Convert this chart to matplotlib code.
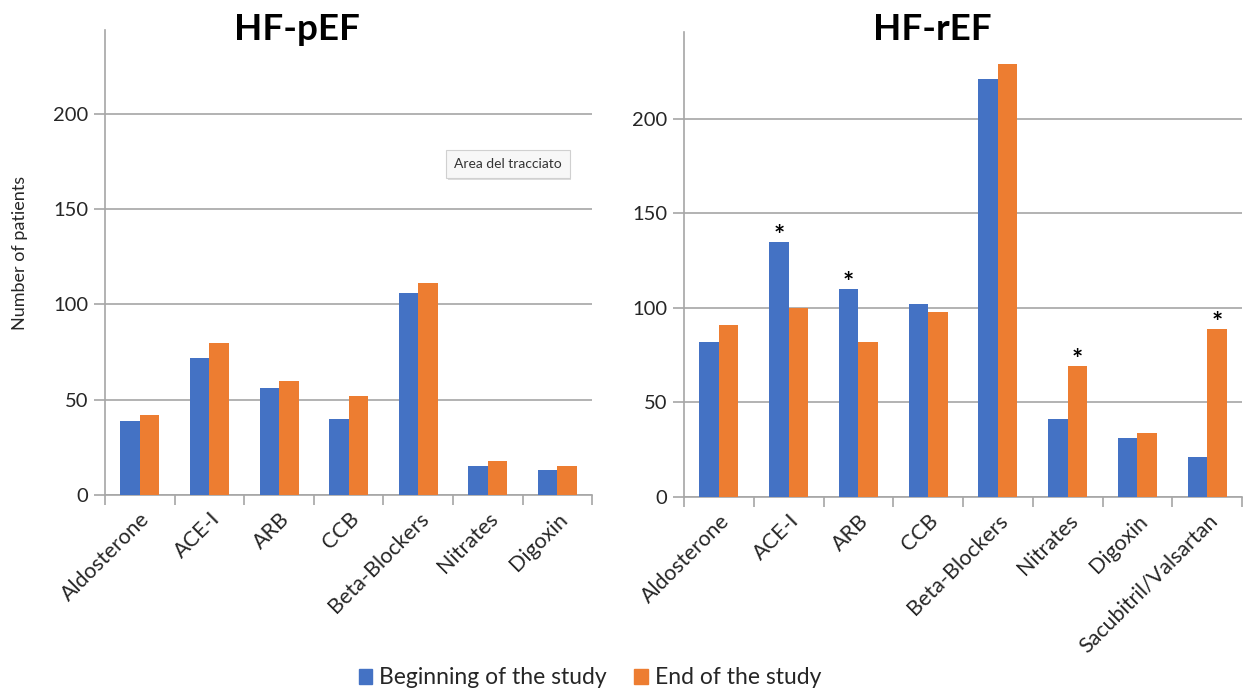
import matplotlib.pyplot as plt
import numpy as np
from matplotlib.patches import Patch
import matplotlib.patheffects as pe

plt.rcParams['font.family'] = ['Lato', 'DejaVu Sans']

blue = '#4472C4'
orange = '#ED7D31'
grid_col = '#a6a6a6'

# data
pef_labels = ["Aldosterone", "ACE-I", "ARB", "CCB", "Beta-Blockers", "Nitrates", "Digoxin"]
pef_begin = [39, 72, 56, 40, 106, 15, 13]
pef_end = [42, 80, 60, 52, 111, 18, 15]

ref_labels = ["Aldosterone", "ACE-I", "ARB", "CCB", "Beta-Blockers", "Nitrates", "Digoxin",
              "Sacubitril/Valsartan"]
ref_begin = [82, 135, 110, 102, 221, 41, 31, 21]
ref_end = [91, 100, 82, 98, 229, 69, 34, 89]
# asterisks: (category index, which series)
ref_stars = [(1, "begin"), (2, "begin"), (5, "end"), (7, "end")]

fig = plt.figure(figsize=(12.43, 6.93), dpi=100)
ax1 = fig.add_axes([0.0845, 0.2857, 0.392, 0.671])
ax2 = fig.add_axes([0.5503, 0.2828, 0.449, 0.6715])

bw = 0.28


def draw_panel(ax, labels, begin, end, ymax):
    x = np.arange(len(labels))
    ax.bar(x - bw / 2, begin, bw, color=blue, zorder=3)
    ax.bar(x + bw / 2, end, bw, color=orange, zorder=3)
    ax.set_xlim(-0.5, len(labels) - 0.5)
    ax.set_ylim(0, ymax)
    ax.set_yticks([0, 50, 100, 150, 200])
    ax.yaxis.grid(True, color=grid_col, linewidth=1.2, zorder=0)
    ax.set_xticks(x)
    ax.set_xticklabels(labels, rotation=45, ha='right', rotation_mode='anchor', fontsize=15.5,
                       color='#262626')
    ax.set_xticks(np.arange(len(labels) + 1) - 0.5, minor=True)
    ax.tick_params(axis='x', which='major', length=0, pad=10)
    ax.tick_params(axis='x', which='minor', length=7, color=grid_col, width=1.2)
    ax.tick_params(axis='y', length=8, color=grid_col, width=1.2, labelsize=14.5,
                   labelcolor='#262626', pad=4)
    for s in ['top', 'right']:
        ax.spines[s].set_visible(False)
    for s in ['left', 'bottom']:
        ax.spines[s].set_color(grid_col)
        ax.spines[s].set_linewidth(1.2)
    return x


draw_panel(ax1, pef_labels, pef_begin, pef_end, 244)
x2 = draw_panel(ax2, ref_labels, ref_begin, ref_end, 246)

ax1.set_ylabel("Number of patients", fontsize=13, color='#262626')
ax1.yaxis.set_label_coords(-0.158, 0.52)

for i, which in ref_stars:
    if which == "begin":
        xx, yy = x2[i] - bw / 2, ref_begin[i]
    else:
        xx, yy = x2[i] + bw / 2, ref_end[i]
    ax2.text(xx, yy - 1, "*", ha='center', va='baseline', fontsize=19, fontweight='bold',
             color='black')

fig.text(297 / 1243, 1 - 29 / 693, "HF-pEF", ha='center', va='center', fontsize=26.5,
         fontweight='bold')
fig.text(932 / 1243, 1 - 29 / 693, "HF-rEF", ha='center', va='center', fontsize=26.5,
         fontweight='bold')

# tooltip box from the screenshot
tip = fig.text(508 / 1243, 1 - 164 / 693, "Area del tracciato", ha='center', va='center',
               fontsize=10, color='#333333',
               bbox=dict(boxstyle='square,pad=0.55', facecolor='#f7f7f7', edgecolor='#d0d0d0',
                         linewidth=0.8))
tip.get_bbox_patch().set_path_effects([pe.SimplePatchShadow(offset=(1, -2), shadow_rgbFace='#bbbbbb',
                                                            alpha=0.5), pe.Normal()])

handles = [Patch(color=blue, label="Beginning of the study"),
           Patch(color=orange, label="End of the study")]
fig.legend(handles=handles, loc='center', bbox_to_anchor=(590 / 1243, 1 - 678 / 693), ncol=2,
           frameon=False, fontsize=16.5, handlelength=0.6, handleheight=0.6, handletextpad=0.3,
           columnspacing=1.2, labelcolor='#262626')

fig.savefig("out.png", dpi=100)
